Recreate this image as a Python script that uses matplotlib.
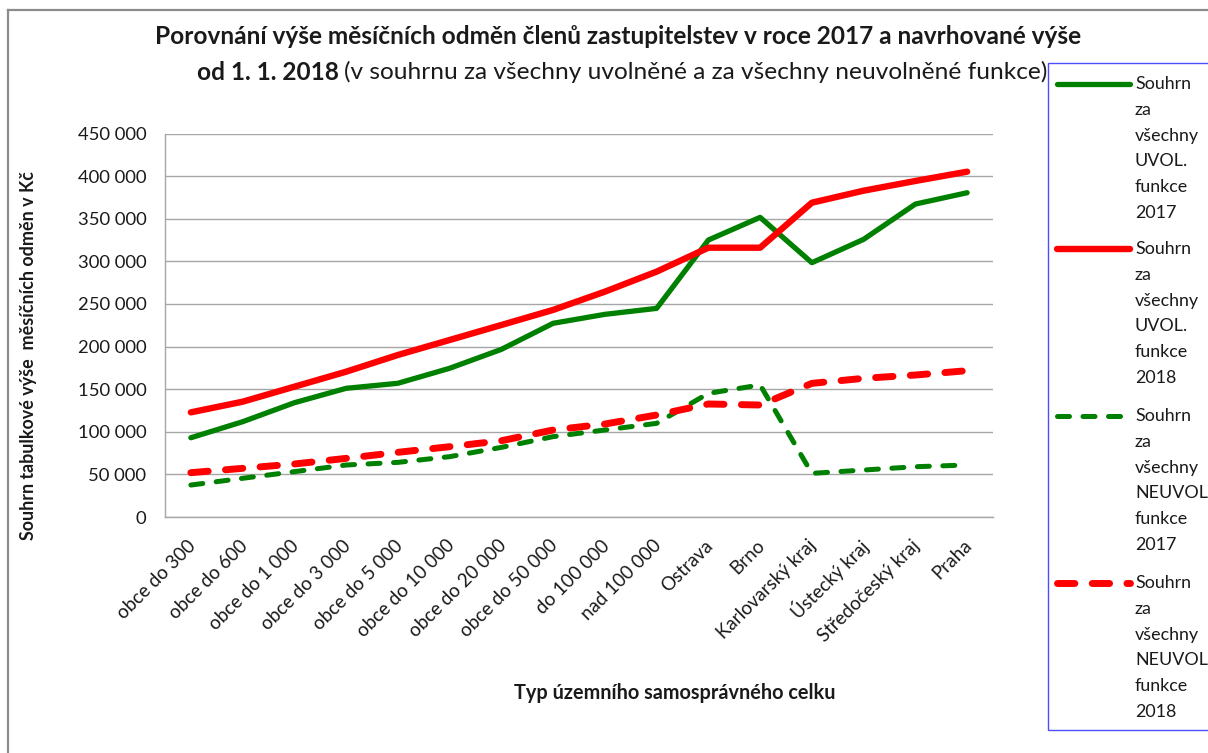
import matplotlib
matplotlib.use("Agg")
import matplotlib.pyplot as plt
from matplotlib.lines import Line2D
from matplotlib.patches import Rectangle
from matplotlib.ticker import FuncFormatter, MultipleLocator
import matplotlib.transforms as mtransforms

plt.rcParams['font.family'] = ['Lato', 'DejaVu Sans']

categories = ["obce do 300", "obce do 600", "obce do 1 000", "obce do 3 000",
              "obce do 5 000", "obce do 10 000", "obce do 20 000", "obce do 50 000",
              "do 100 000", "nad 100 000", "Ostrava", "Brno", "Karlovarský kraj",
              "Ústecký kraj", "Středočeský kraj", "Praha"]

uvol_2017 = [93000, 111800, 134100, 151000, 156900, 174500, 196700, 227300,
             237800, 244800, 325000, 351600, 298400, 325800, 367200, 380500]
uvol_2018 = [122800, 135300, 152900, 170500, 190100, 207700, 225300, 243000,
             264400, 287900, 316000, 316000, 368800, 382900, 394300, 405200]
neuvol_2017 = [37500, 45400, 53200, 61000, 64100, 70800, 81700, 94300,
               102100, 109900, 145100, 154900, 51200, 55100, 59000, 61000]
neuvol_2018 = [52000, 57100, 62200, 68800, 75900, 82500, 89500, 102100,
               109100, 119700, 132600, 131400, 156800, 162700, 166600, 171700]

series_labels = ["Souhrn\nza\nvšechny\nUVOL.\nfunkce\n2017",
                 "Souhrn\nza\nvšechny\nUVOL.\nfunkce\n2018",
                 "Souhrn\nza\nvšechny\nNEUVOL\nfunkce\n2017",
                 "Souhrn\nza\nvšechny\nNEUVOL\nfunkce\n2018"]

title_line1 = "Porovnání výše měsíčních odměn členů zastupitelstev v roce 2017 a navrhované výše"
title_line2_bold = "od 1. 1. 2018"
title_line2_reg = "(v souhrnu za všechny uvolněné a za všechny neuvolněné funkce)"
y_label = "Souhrn tabulkové výše  měsíčních odměn v Kč"
x_label = "Typ územního samosprávného celku"

W, H = 1208, 753
fig = plt.figure(figsize=(W / 100, H / 100), dpi=100)
fig.patch.set_facecolor("white")

def fx(px):
    return px / W

def fy(py):
    return 1 - py / H

ax_l, ax_r, ax_t, ax_b = 165, 993, 133.5, 517
ax = fig.add_axes([fx(ax_l), fy(ax_b), fx(ax_r - ax_l), (ax_b - ax_t) / H])

GREEN = "#008000"
RED = "#ff0000"
TXT = "#1a1a1a"
styles = [
    dict(color=GREEN, lw=3.8, ls="-", solid_capstyle="round", solid_joinstyle="round"),
    dict(color=RED, lw=4.6, ls="-", solid_capstyle="round", solid_joinstyle="round"),
    dict(color=GREEN, lw=3.6, ls=(0, (2.4, 2.7)), dash_capstyle="round", dash_joinstyle="round"),
    dict(color=RED, lw=5.0, ls=(0, (2.5, 2.5)), dash_capstyle="round", dash_joinstyle="round"),
]
data = [uvol_2017, uvol_2018, neuvol_2017, neuvol_2018]
x = list(range(len(categories)))
for vals, st in zip(data, styles):
    ax.plot(x, vals, zorder=3, **st)

ax.set_xlim(-0.5, len(categories) - 0.5)
ax.set_ylim(0, 450000)
ax.yaxis.set_major_locator(MultipleLocator(50000))
ax.yaxis.set_major_formatter(FuncFormatter(lambda v, p: f"{int(v):,}".replace(",", " ")))
ax.grid(axis="y", color="#a6a6a6", lw=1.0)
ax.set_axisbelow(True)
for s in ["top", "right"]:
    ax.spines[s].set_visible(False)
for s in ["left", "bottom"]:
    ax.spines[s].set_color("#a6a6a6")
    ax.spines[s].set_linewidth(1.0)
ax.tick_params(axis="y", length=0, pad=13.5, labelsize=13.3, labelcolor=TXT)
ax.tick_params(axis="x", length=0, labelsize=13.5, labelcolor=TXT)
ax.set_xticks(x)
ax.set_xticklabels(categories, rotation=45, ha="right", va="center", rotation_mode="anchor")
offset = mtransforms.ScaledTranslation(2 / 100, -21 / 100, fig.dpi_scale_trans)
for lab in ax.get_xticklabels():
    lab.set_transform(lab.get_transform() + offset)

# Titles
fig.text(fx(618), fy(37), title_line1, ha="center", va="center",
         fontsize=17.6, fontweight="bold", color=TXT)
renderer = fig.canvas.get_renderer()
tb = fig.text(0, fy(72), title_line2_bold, ha="left", va="center",
              fontsize=17.6, fontweight="bold", color=TXT)
tr = fig.text(0, fy(72), title_line2_reg, ha="left", va="center",
              fontsize=17.6, color=TXT)
wb = tb.get_window_extent(renderer).width
wr = tr.get_window_extent(renderer).width
gap = 5
x0 = 622 - (wb + gap + wr) / 2
tb.set_x(fx(x0))
tr.set_x(fx(x0 + wb + gap))

fig.text(fx(29), fy(356), y_label, rotation=90, ha="center", va="center",
         fontsize=12.9, fontweight="bold", color=TXT)
fig.text(fx(675), fy(693), x_label, ha="center", va="center",
         fontsize=14.3, fontweight="bold", color=TXT)

# Outer frame of chart object
fig.add_artist(Line2D([fx(8), fx(8)], [fy(10), fy(760)], color="#8c8c8c", lw=1.6))
fig.add_artist(Line2D([fx(8), fx(1215)], [fy(10), fy(10)], color="#8c8c8c", lw=1.6))

# Legend
fig.add_artist(Rectangle((fx(1048), fy(730)), fx(1230 - 1048), (730 - 63) / H,
                         facecolor="white", edgecolor="#4d4dff", lw=1.0, zorder=5))
entry_tops = [84, 249, 416, 583]
step = 25.8
for lab, st, y0 in zip(series_labels, styles, entry_tops):
    fig.add_artist(Line2D([fx(1057), fx(1130)], [fy(y0), fy(y0)], zorder=6, **st))
    for i, line in enumerate(lab.split("\n")):
        fig.text(fx(1135), fy(y0 + i * step), line, ha="left", va="center",
                 fontsize=12.9, color=TXT, zorder=7)

fig.savefig("out.png", dpi=100, facecolor="white")
